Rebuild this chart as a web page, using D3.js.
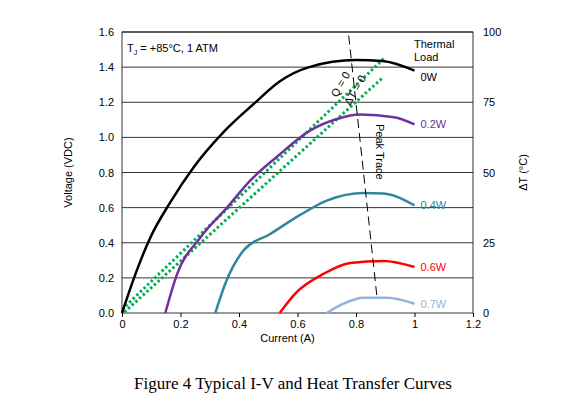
<!DOCTYPE html>
<html><head><meta charset="utf-8">
<script src="https://cdn.jsdelivr.net/npm/d3@7"></script>
<style>body{margin:0;background:#fff}text{font-family:"Liberation Sans",Arial,sans-serif}</style>
</head><body><svg id="c" width="585" height="414"></svg>
<script>
// I-V curves per thermal load: [current A, voltage V]
const curve0W = [[0,0],[0.05,0.24],[0.097,0.43],[0.165,0.63],[0.245,0.83],[0.347,1.03],[0.45,1.19],[0.54,1.32],[0.64,1.40],[0.80,1.44],[0.89,1.435],[1.0,1.38]];
const curve02W = [[0.148,0],[0.188,0.22],[0.268,0.43],[0.359,0.60],[0.439,0.755],[0.53,0.89],[0.644,1.04],[0.735,1.105],[0.815,1.13],[0.93,1.115],[1.0,1.074]];
const curve04W = [[0.319,0],[0.353,0.167],[0.416,0.357],[0.507,0.45],[0.598,0.547],[0.70,0.64],[0.826,0.683],[0.894,0.68],[1.0,0.613]];
const curve06W = [[0.539,0],[0.598,0.12],[0.69,0.224],[0.78,0.285],[0.894,0.296],[1.0,0.262]];
const curve07W = [[0.70,0],[0.757,0.053],[0.826,0.087],[0.906,0.087],[1.0,0.053]];
const qZero = [[0,0.02],[0.90,1.457]];
const dtZero = [[0.008,0.005],[0.894,1.344]];
const peakTrace = [[0.775,1.58],[0.872,0.087]];
const series = [
  {name:"0W", data:curve0W, color:"#000000"},
  {name:"0.2W", data:curve02W, color:"#7030a0"},
  {name:"0.4W", data:curve04W, color:"#31859c"},
  {name:"0.6W", data:curve06W, color:"#ff0000"},
  {name:"0.7W", data:curve07W, color:"#95b3d7"}
];
const xTicks = [0,0.2,0.4,0.6,0.8,1,1.2];
const yTicks = [0,0.2,0.4,0.6,0.8,1,1.2,1.4,1.6];
const dtTicks = [0,25,50,75,100];

const svg = d3.select("#c");
const L=122,R=473,T=32,B=313;
const x = d3.scaleLinear().domain([0,1.2]).range([L,R]);
const y = d3.scaleLinear().domain([0,1.6]).range([B,T]);
const y2 = d3.scaleLinear().domain([0,100]).range([B,T]);

svg.append("g").selectAll("line").data(yTicks.slice(1)).enter().append("line")
  .attr("x1",L).attr("x2",R).attr("y1",d=>y(d)).attr("y2",d=>y(d)).attr("stroke","#000").attr("stroke-width",0.8);
svg.append("rect").attr("x",L).attr("y",T).attr("width",R-L).attr("height",B-T).attr("fill","none").attr("stroke","#000").attr("stroke-width",0.8);

const fmt1 = d=>d===0||d===1?String(d):d3.format(".1f")(d);
const xa = svg.append("g").attr("transform",`translate(0,${B})`).call(d3.axisBottom(x).tickValues(xTicks).tickSize(4).tickFormat(fmt1));
const ya = svg.append("g").attr("transform",`translate(${L},0)`).call(d3.axisLeft(y).tickValues(yTicks).tickSize(0).tickPadding(8).tickFormat(d3.format(".1f")));
const ya2 = svg.append("g").attr("transform",`translate(${R},0)`).call(d3.axisRight(y2).tickValues(dtTicks).tickSize(0).tickPadding(10));
[xa,ya,ya2].forEach(a=>{a.select(".domain").remove();a.selectAll("text").attr("font-size",11).attr("fill","#000");});
xa.selectAll(".tick line").attr("stroke","#000");

const line = d3.line().x(d=>x(d[0])).y(d=>y(d[1])).curve(d3.curveMonotoneX);
const straight = d3.line().x(d=>x(d[0])).y(d=>y(d[1]));
[qZero,dtZero].forEach(d=>svg.append("path").attr("d",straight(d)).attr("fill","none")
  .attr("stroke","#00b050").attr("stroke-width",3).attr("stroke-dasharray","2.5,2.5"));
series.forEach(s=>{
  svg.append("path").attr("d",line(s.data)).attr("fill","none").attr("stroke",s.color).attr("stroke-width",2.5);
  const last = s.data[s.data.length-1];
  svg.append("text").attr("x",x(last[0])+6).attr("y",y(last[1])+(s.name==="0W"?10:4)).attr("font-size",11).attr("fill",s.color).text(s.name);
});
svg.append("path").attr("d",straight(peakTrace)).attr("fill","none").attr("stroke","#000").attr("stroke-width",1).attr("stroke-dasharray","9,5");

svg.append("text").attr("x",127).attr("y",52).attr("font-size",11).html('T<tspan font-size="7" dy="3">J</tspan><tspan dy="-3"> = +85°C, 1 ATM</tspan>');
svg.append("text").attr("x",414).attr("y",48).attr("font-size",11).text("Thermal");
svg.append("text").attr("x",414).attr("y",61).attr("font-size",11).text("Load");
svg.append("text").attr("transform","translate(337,98) rotate(-60)").attr("font-size",11).text("Q = 0");
svg.append("text").attr("transform","translate(350,106) rotate(-60)").attr("font-size",11).text("ΔT = 0");
svg.append("text").attr("transform","translate(376,124) rotate(90)").attr("font-size",11).text("Peak Trace");

svg.append("text").attr("x",(L+R)/2-10).attr("y",342).attr("text-anchor","middle").attr("font-size",11).text("Current (A)");
svg.append("text").attr("transform",`translate(72,${(T+B)/2}) rotate(-90)`).attr("text-anchor","middle").attr("font-size",11).text("Voltage (VDC)");
svg.append("text").attr("transform",`translate(527,${(T+B)/2}) rotate(-90)`).attr("text-anchor","middle").attr("font-size",11).text("ΔT (°C)");
svg.append("text").attr("x",293).attr("y",389).attr("text-anchor","middle").attr("font-size",17).style("font-family","'Liberation Serif','Times New Roman',serif").text("Figure 4 Typical I-V and Heat Transfer Curves");
</script></body></html>
